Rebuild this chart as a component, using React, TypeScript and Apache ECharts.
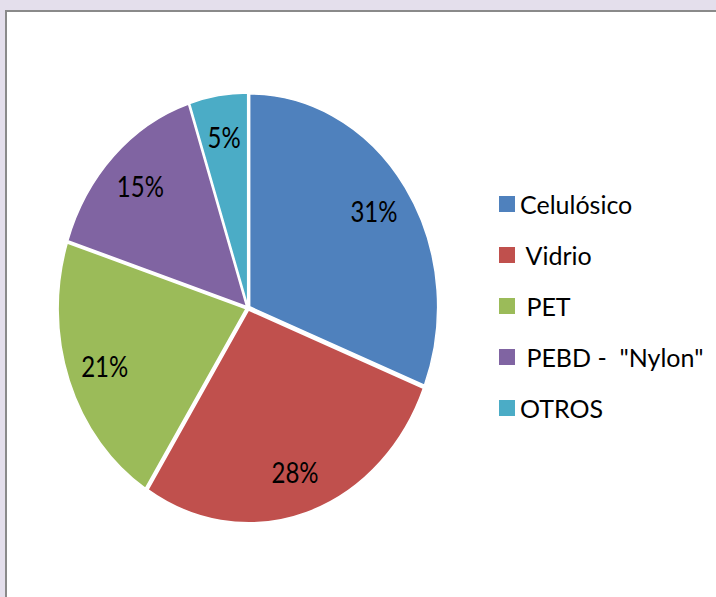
import React, { useEffect, useRef } from "react";
import * as echarts from "echarts";

const categories = ["Celulósico", " Vidrio", " PET", " PEBD -  \"Nylon\"", "OTROS"];
const values = [31, 28, 21, 15, 5];
const colors = ["#4F81BD", "#C0504D", "#9BBB59", "#8064A2", "#4BACC6"];

const CX = 248;
const CY = 308;
const RX = 188;
const RY = 213;
const LABEL_F = 0.81;
const EXPLODE = 2;

export default function App() {
  const ref = useRef<HTMLDivElement>(null);
  useEffect(() => {
    if (!ref.current) return;
    const chart = echarts.init(ref.current, null, { renderer: "svg" });
    const total = values.reduce((a, b) => a + b, 0);
    let acc = 0;
    const series = categories.map((name, i) => {
      const start = (acc / total) * Math.PI * 2;
      acc += values[i];
      const end = (acc / total) * Math.PI * 2;
      return {
        type: "custom",
        name,
        coordinateSystem: "none",
        itemStyle: { color: colors[i] },
        data: [[start, end, values[i]]],
        renderItem: (params: any, api: any) => {
          const s = api.value(0);
          const e = api.value(1);
          const v = api.value(2);
          const mid = (s + e) / 2;
          const ox = EXPLODE * Math.sin(mid);
          const oy = -EXPLODE * Math.cos(mid);
          const pct = Math.round((v / total) * 100) + "%";
          return {
            type: "group",
            children: [
              {
                type: "sector",
                x: CX + ox,
                y: CY + oy,
                scaleY: RY / RX,
                shape: {
                  cx: 0,
                  cy: 0,
                  r0: 0,
                  r: RX,
                  startAngle: s - Math.PI / 2,
                  endAngle: e - Math.PI / 2,
                  clockwise: true,
                },
                style: { fill: api.visual("color"), stroke: "#ffffff", lineWidth: 1.5 },
              },
              {
                type: "text",
                x: CX + LABEL_F * RX * Math.sin(mid),
                y: CY - LABEL_F * RY * Math.cos(mid),
                scaleY: 1.2,
                style: {
                  text: pct,
                  fontFamily: "Lato",
                  fontSize: 24,
                  fill: "#000000",
                  align: "center",
                  verticalAlign: "middle",
                },
              },
            ],
          };
        },
      };
    });

    chart.setOption({
      animation: false,
      backgroundColor: "#E4DFEC",
      graphic: [
        {
          type: "rect",
          z: -10,
          shape: { x: 6, y: 11, width: 760, height: 640 },
          style: { fill: "#ffffff", stroke: "#8a8a8a", lineWidth: 2 },
        },
      ],
      legend: {
        orient: "vertical",
        left: 499,
        top: 189,
        padding: 0,
        icon: "rect",
        itemWidth: 16,
        itemHeight: 16,
        itemGap: 21,
        data: categories,
        textStyle: {
          fontFamily: "Lato",
          fontSize: 25,
          color: "#000000",
          lineHeight: 30,
        },
      },
      series,
    } as any);
    return () => chart.dispose();
  }, []);
  return (
    <div
      ref={ref}
      style={{ position: "fixed", left: 0, top: 0, width: 716, height: 597 }}
    />
  );
}
